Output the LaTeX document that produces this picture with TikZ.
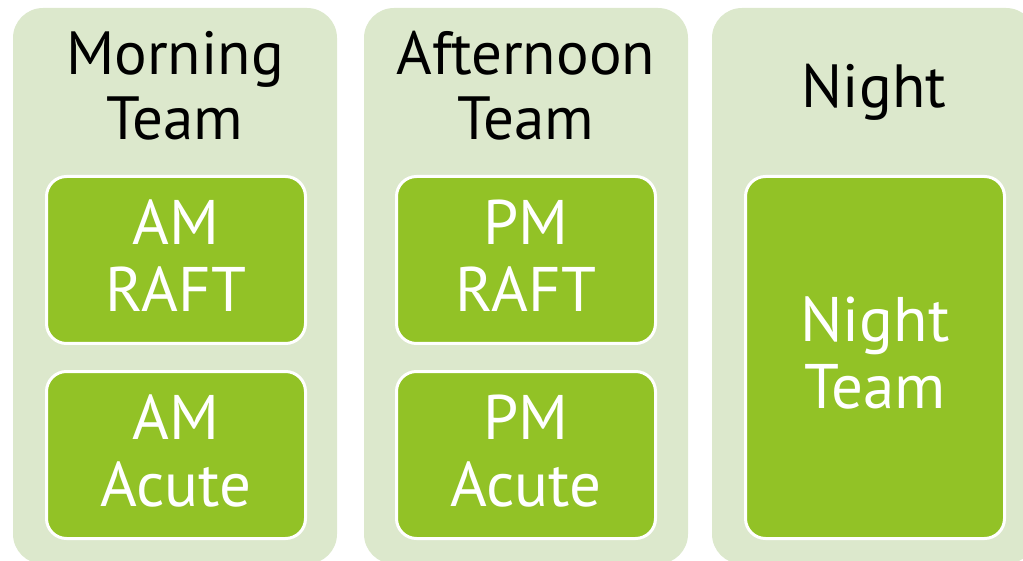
\documentclass[tikz,border=0pt]{standalone}
\usepackage{fontspec}
\setmainfont{PT Sans}
\usetikzlibrary{positioning}
\definecolor{PaleGreen}{RGB}{220,232,204}
\definecolor{Leaf}{RGB}{146,194,38}

\begin{document}
\begin{tikzpicture}[x=1pt,y=-1pt,
  panel/.style={fill=PaleGreen,rounded corners=30pt,minimum width=324pt,minimum height=556pt,inner sep=0pt},
  head/.style={align=center,text=black,font=\fontsize{61}{65}\selectfont},
  unit/.style={draw=white,line width=3pt,fill=Leaf,rounded corners=20pt,minimum width=259pt,minimum height=167pt,align=center,text=white,font=\fontsize{63}{67}\selectfont,execute at end node={\rule[-9pt]{0pt}{9pt}}}]
\useasboundingbox (0,0) rectangle (1023,561);
\clip (0,0) rectangle (1023,561);
% shift panels
\node[panel] (morning) at (175,286) {};
\node[panel] (afternoon) at (526,286) {};
\node[panel] (night) at (874,286) {};
% panel titles
\node[head] (mornhead) at (175,86) {Morning\\Team};
\node[head] (afthead) at (526,86) {Afternoon\\Team};
\node[head] (nighthead) at (874,92) {Night};
% teams
\node[unit] (amraft) at (176,260) {AM\\RAFT};
\node[unit,below=25pt of amraft] (amacute) {AM\\Acute};
\node[unit] (pmraft) at (526,260) {PM\\RAFT};
\node[unit,below=25pt of pmraft] (pmacute) {PM\\Acute};
\node[unit,minimum height=362pt] (nightteam) at (875,357.5) {Night\\Team};
\end{tikzpicture}
\end{document}
